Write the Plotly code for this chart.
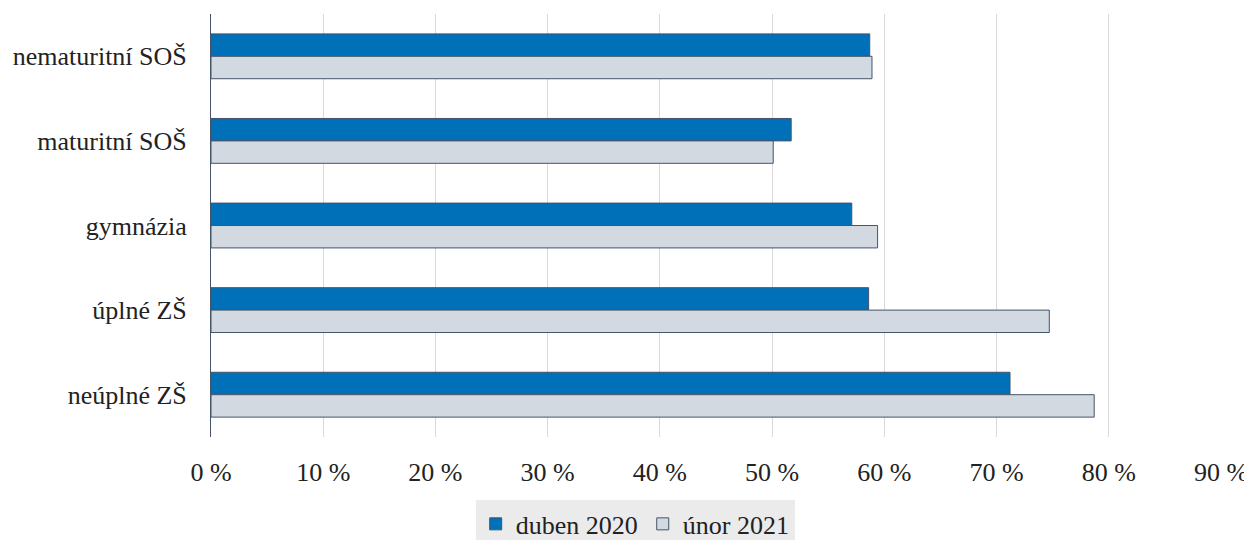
import plotly.graph_objects as go

categories = ["nematuritní SOŠ", "maturitní SOŠ", "gymnázia", "úplné ZŠ", "neúplné ZŠ"]
duben_2020 = [58.7, 51.7, 57.1, 58.6, 71.2]
unor_2021 = [58.9, 50.1, 59.4, 74.7, 78.7]
tick_vals = [0, 10, 20, 30, 40, 50, 60, 70, 80, 90]
tick_text = [f"{v} %" for v in tick_vals]

font = dict(family="'Liberation Serif', 'Times New Roman', serif", size=26, color="#222222")

fig = go.Figure()
fig.add_trace(go.Bar(y=categories, x=duben_2020, name="duben 2020", orientation="h",
                     marker=dict(color="#0071b9", line=dict(color="#44546a", width=1))))
fig.add_trace(go.Bar(y=categories, x=unor_2021, name="únor 2021", orientation="h",
                     marker=dict(color="#d3d9e0", line=dict(color="#44546a", width=1))))

fig.update_layout(
    width=1252, height=540,
    margin=dict(l=203, r=39, t=6, b=111, autoexpand=False),
    barmode="group", bargap=0.47, bargroupgap=0,
    plot_bgcolor="white", paper_bgcolor="white",
    font=font,
    showlegend=True,
    legend=dict(orientation="h", x=0.42, xanchor="center", y=-0.15, yanchor="top",
                bgcolor="#ebebeb", font=font, itemwidth=30, tracegroupgap=0),
    xaxis=dict(range=[0, 90], tickmode="array", tickvals=tick_vals, ticktext=tick_text,
               showgrid=True, gridcolor="#d9d9d9", gridwidth=1, zeroline=False,
               showline=False, ticklabelstandoff=17, tickfont=font, automargin=False),
    yaxis=dict(autorange="reversed", showline=True, linecolor="#44546a", linewidth=1,
               ticks="", ticklabelstandoff=18, tickfont=font, automargin=False),
)

fig.write_html("out.html")
